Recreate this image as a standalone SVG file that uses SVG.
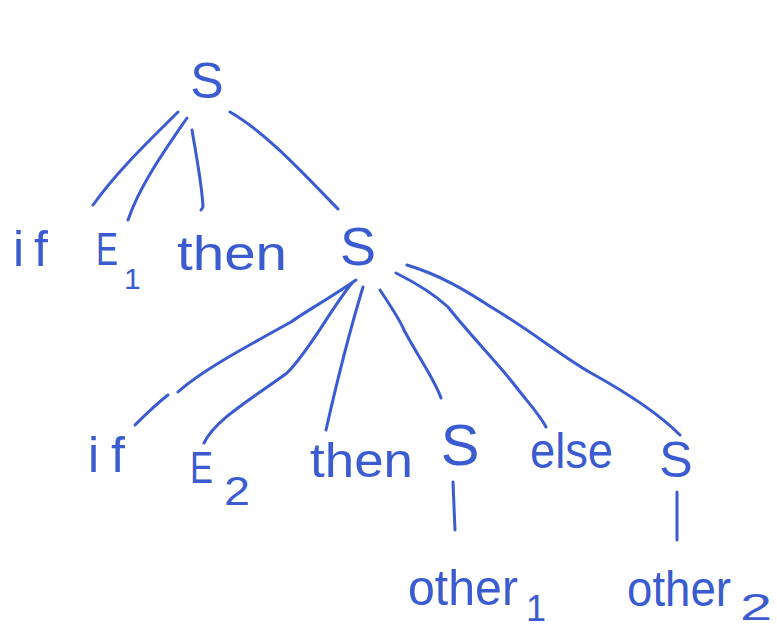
<svg xmlns="http://www.w3.org/2000/svg" width="777" height="631" viewBox="0 0 777 631">
<style>
.t{font-family:"Liberation Sans","DejaVu Sans",sans-serif;fill:#3b5bd0;}
.e{fill:none;stroke:#3b5bd0;stroke-width:3;stroke-linecap:round;stroke-linejoin:round;}
</style>
<rect width="777" height="631" fill="#ffffff"/>
<g id="connectors">
<path class="e" d="M178,112 C150,140 118,170 93,205"/>
<path class="e" d="M187,118 C165,150 140,185 128,220"/>
<path class="e" d="M192,130 C197,160 202,185 203,207 L201,210"/>
<path class="e" d="M230,112 C265,132 300,170 338,209"/>
<path class="e" d="M356,280 C330,298 300,315 291,322 C240,350 200,372 178,392"/>
<path class="e" d="M168,395 C155,405 145,415 135,425"/>
<path class="e" d="M352,283 C330,310 310,350 287,373 C250,400 215,420 204,443"/>
<path class="e" d="M363,287 C350,330 335,390 326,430"/>
<path class="e" d="M380,290 C390,305 400,320 404,330 C420,360 435,380 441,398"/>
<path class="e" d="M396,273 C420,285 435,295 448,307 C470,335 495,360 513,383 C530,405 540,415 546,427"/>
<path class="e" d="M407,265 C440,275 465,290 491,307 C530,330 560,355 591,373 C640,400 665,420 680,435"/>
<path class="e" d="M453,482 L455,530"/>
<path class="e" d="M677,492 L677,540"/>
</g>
<g id="n_S_root"><text class="t" x="207" y="98" font-size="50" text-anchor="middle">S</text></g>
<g id="n_if1"><text class="t" x="13" y="266" font-size="50" textLength="35" lengthAdjust="spacing">if</text></g>
<g id="n_E1"><text class="t" x="96" y="265" font-size="46" textLength="22" lengthAdjust="spacingAndGlyphs">E</text><text class="t" x="124" y="289" font-size="30">1</text></g>
<g id="n_then1"><text class="t" x="177" y="270" font-size="48" textLength="110" lengthAdjust="spacingAndGlyphs">then</text></g>
<g id="n_S2"><text class="t" x="358" y="265" font-size="54" text-anchor="middle">S</text></g>
<g id="n_if2"><text class="t" x="88" y="472" font-size="50" textLength="37" lengthAdjust="spacing">if</text></g>
<g id="n_E2"><text class="t" x="190" y="483" font-size="44" textLength="23" lengthAdjust="spacingAndGlyphs">E</text><text class="t" x="224" y="505" font-size="40" textLength="26" lengthAdjust="spacingAndGlyphs">2</text></g>
<g id="n_then2"><text class="t" x="310" y="477" font-size="48" textLength="103" lengthAdjust="spacingAndGlyphs">then</text></g>
<g id="n_S3"><text class="t" x="460" y="465" font-size="58" text-anchor="middle">S</text></g>
<g id="n_else"><text class="t" x="530" y="468" font-size="50" textLength="83" lengthAdjust="spacingAndGlyphs">else</text></g>
<g id="n_S4"><text class="t" x="676" y="477" font-size="50" text-anchor="middle">S</text></g>
<g id="n_other1"><text class="t" x="408" y="605" font-size="50" textLength="110" lengthAdjust="spacingAndGlyphs">other</text><text class="t" x="526" y="621" font-size="36">1</text></g>
<g id="n_other2"><text class="t" x="627" y="606" font-size="50" textLength="104" lengthAdjust="spacingAndGlyphs">other</text><text class="t" x="740" y="620" font-size="36" textLength="32" lengthAdjust="spacingAndGlyphs">2</text></g>
</svg>
